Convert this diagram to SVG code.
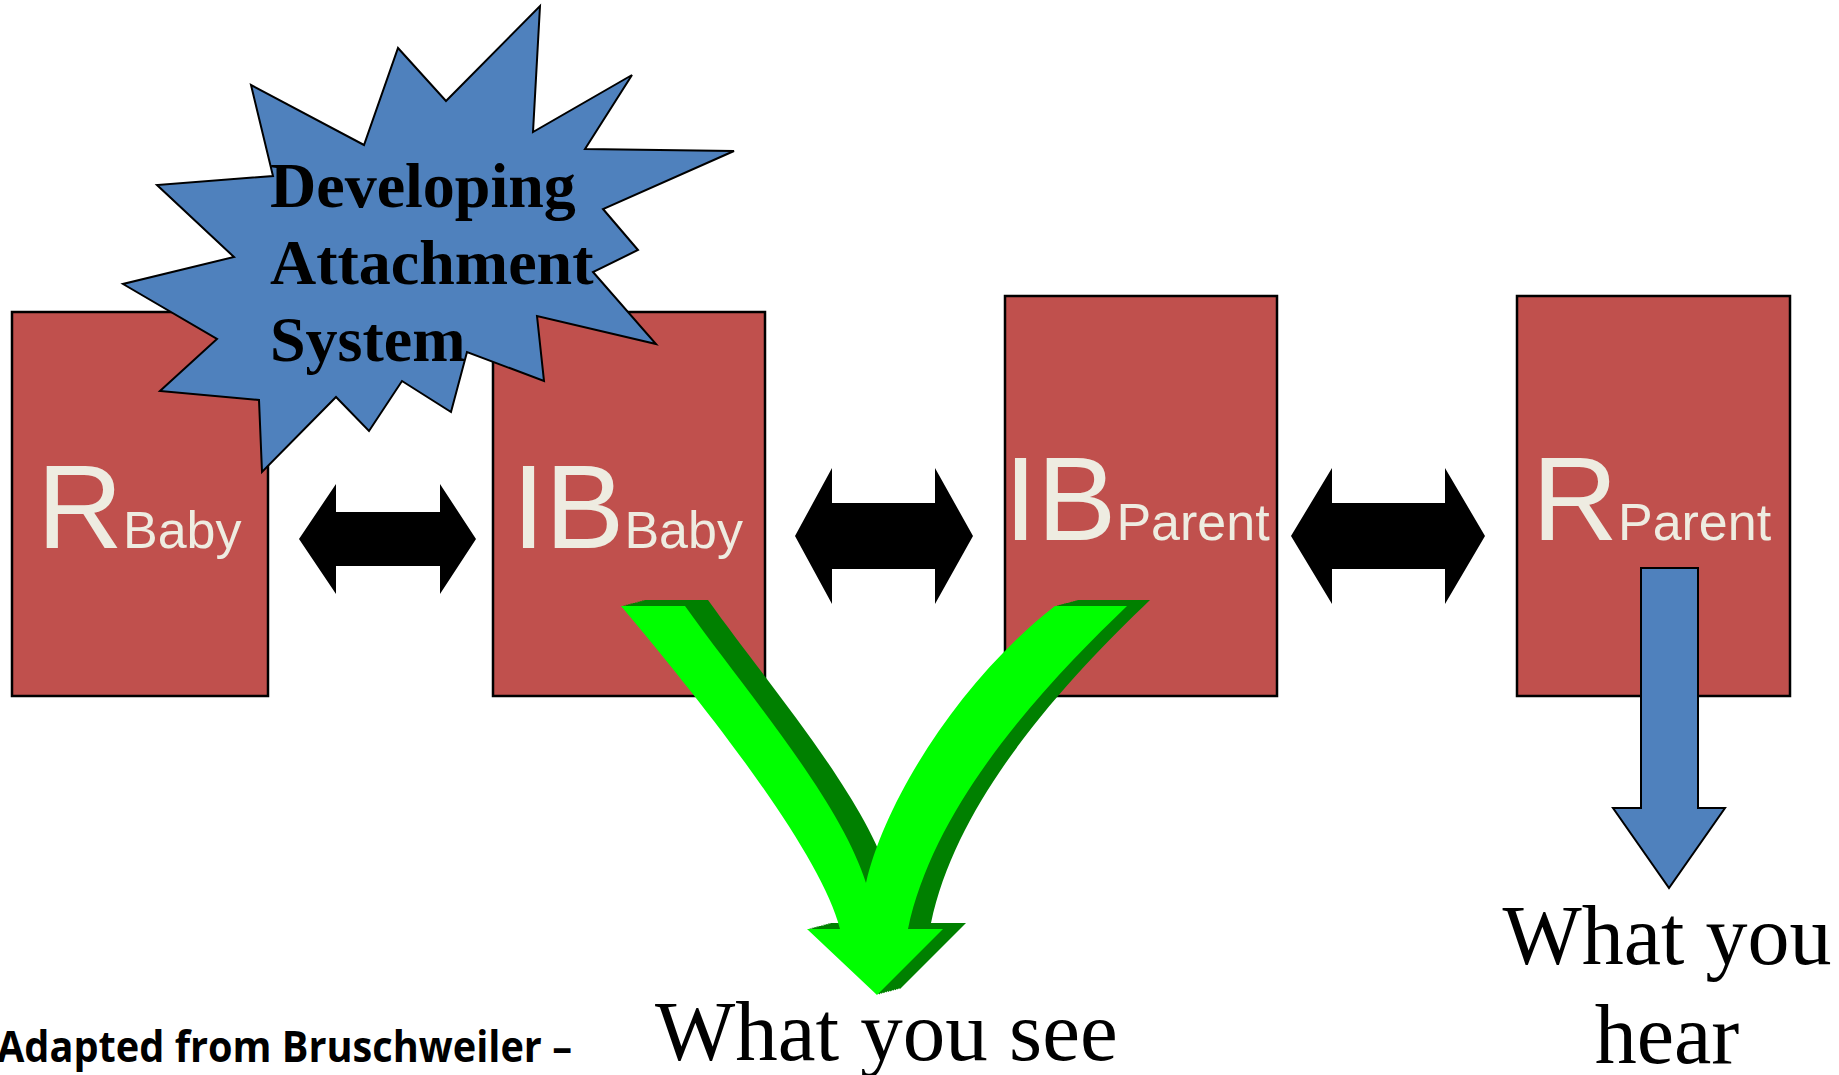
<svg xmlns="http://www.w3.org/2000/svg" xmlns:xlink="http://www.w3.org/1999/xlink" width="1839" height="1075" viewBox="0 0 1839 1075">
<style>
.box{fill:#C0504D;stroke:#000;stroke-width:2.5}
.lbl{font-family:"Liberation Sans",Arial,sans-serif;fill:#EEECE1}
.big{font-size:119px}
.sub{font-size:52px}
.dbl{fill:#000}
.serif{font-family:"Liberation Serif","Times New Roman",serif;fill:#000}
.cap{font-size:85px}
.cap2{font-size:84px}
.burst{fill:#4F81BD;stroke:#000;stroke-width:2;stroke-linejoin:miter}
.burstText{font-family:"Liberation Serif","Times New Roman",serif;font-weight:bold;font-size:64px;fill:#000}
.dark{fill:#008000}
.light{fill:#00FF00}
.blue{fill:#4F81BD;stroke:#000;stroke-width:2}
.note{font-family:"Open Sans","Noto Sans",sans-serif;font-weight:bold;font-size:43px;fill:#000}
</style>
<defs>
<path id="vshape" d="M621,606 L685,606 C745,690 840,800 866,883 C885,800 960,680 1055,606 L1127,606 C1050,680 935,800 908,929 L943,929 L877,995 L807,929 L840,929 C820,850 700,700 621,606 Z"/>
</defs>
<rect width="1839" height="1075" fill="#fff"/>
<g id="node-rbaby">
<rect class="box" x="12" y="312" width="256" height="384"/>
<text class="lbl" x="37" y="548"><tspan class="big">R</tspan><tspan class="sub">Baby</tspan></text>
</g>
<g id="node-ibbaby">
<rect class="box" x="493" y="312" width="272" height="384"/>
<text class="lbl" x="512" y="548"><tspan class="big">IB</tspan><tspan class="sub">Baby</tspan></text>
</g>
<g id="node-ibparent">
<rect class="box" x="1005" y="296" width="272" height="400"/>
<text class="lbl" x="1004" y="540"><tspan class="big">IB</tspan><tspan class="sub">Parent</tspan></text>
</g>
<g id="node-rparent">
<rect class="box" x="1517" y="296" width="273" height="400"/>
<text class="lbl" x="1532" y="540"><tspan class="big">R</tspan><tspan class="sub">Parent</tspan></text>
</g>
<g id="node-starburst">
<polygon class="burst" points="540,6 533,132 632,75 585,149 734,151 603,209 638,250 593,272 656,344 537,316 544,381 467,352 451,412 402,381 369,431 336,397 262,472 259,400 160,391 217,339 123,284 234,257 157,185 273,176 251,85 364,145 398,48 446,101"/>
<text class="burstText" x="270" y="207">Developing</text>
<text class="burstText" x="270" y="284">Attachment</text>
<text class="burstText" x="270" y="361">System</text>
</g>
<g id="connectors">
<polygon class="dbl" points="299,539 336,484 336,512 440,512 440,484 476,539 440,594 440,566 336,566 336,594"/>
<polygon class="dbl" points="795,536 832,468 832,503 935,503 935,468 973,536 935,604 935,569 832,569 832,604"/>
<polygon class="dbl" points="1291,536 1332,468 1332,503 1445,503 1445,468 1485,536 1445,604 1445,569 1332,569 1332,604"/>
<g id="green-arrow">
<use xlink:href="#vshape" class="dark" transform="translate(23,-6)"/>
<use xlink:href="#vshape" class="dark" transform="translate(20.7,-5.4)"/>
<use xlink:href="#vshape" class="dark" transform="translate(18.4,-4.8)"/>
<use xlink:href="#vshape" class="dark" transform="translate(16.1,-4.2)"/>
<use xlink:href="#vshape" class="dark" transform="translate(13.8,-3.6)"/>
<use xlink:href="#vshape" class="dark" transform="translate(11.5,-3)"/>
<use xlink:href="#vshape" class="dark" transform="translate(9.2,-2.4)"/>
<use xlink:href="#vshape" class="dark" transform="translate(6.9,-1.8)"/>
<use xlink:href="#vshape" class="dark" transform="translate(4.6,-1.2)"/>
<use xlink:href="#vshape" class="dark" transform="translate(2.3,-0.6)"/>
<use xlink:href="#vshape" class="light"/>
</g>
<polygon class="blue" points="1641,568 1698,568 1698,808 1725,808 1669,888 1613,808 1641,808"/>
</g>
<g id="labels">
<text class="serif cap" x="655" y="1060">What you see</text>
<text class="serif cap2" x="1667" y="964" text-anchor="middle">What you</text>
<text class="serif cap2" x="1667" y="1063" text-anchor="middle">hear</text>
<text class="note" x="-3" y="1062" textLength="575" lengthAdjust="spacingAndGlyphs">Adapted from Bruschweiler –</text>
</g>
</svg>
